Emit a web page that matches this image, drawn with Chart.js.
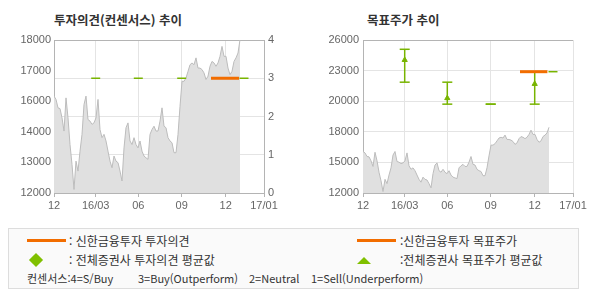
<!DOCTYPE html>
<html lang="ko">
<head>
<meta charset="utf-8">
<title>투자의견 / 목표주가 추이</title>
<script src="https://cdn.jsdelivr.net/npm/chart.js@4.4.0/dist/chart.umd.min.js"></script>
<style>
  html, body { margin: 0; padding: 0; background: #fff; }
  body { width: 590px; height: 300px; position: relative; overflow: hidden;
         font-family: "Noto Sans CJK KR", sans-serif; color: #333; }
  .box { position: absolute; top: 0; width: 295px; height: 215px; }
  .title { position: absolute; top: 11px; font-size: 12.5px; font-weight: bold; line-height: 18px; color: #333; }
  .legend { position: absolute; left: 8px; top: 228px; width: 571px; height: 61px; box-sizing: border-box;
            border: 1px solid #ddd; background: #fafafa; font-size: 12px; }
  .item { position: absolute; line-height: 16px; white-space: pre; }
  .small { font-size: 11px; }
  .orange { position: absolute; height: 3px; width: 39px; background: #f26d00; top: 10px; }
  .diamond { position: absolute; left: 22px; top: 26px; width: 10px; height: 10px; background: #80c000; transform: rotate(45deg); }
  .tri { position: absolute; left: 348px; top: 28px; width: 0; height: 0;
         border-left: 7px solid transparent; border-right: 7px solid transparent; border-bottom: 7px solid #80c000; }
</style>
</head>
<body>
<div class="title" style="left:54px">투자의견(컨센서스) 추이</div>
<div class="title" style="left:367px">목표주가 추이</div>
<div class="box" style="left:0"><canvas id="opinion-chart" width="295" height="215"></canvas></div>
<div class="box" style="left:295px"><canvas id="target-chart" width="295" height="215"></canvas></div>

<div class="legend">
  <div class="orange" style="left:18px"></div>
  <div class="item" style="left:60px; top:4px">: 신한금융투자 투자의견</div>
  <div class="diamond"></div>
  <div class="item" style="left:60px; top:23px">: 전체증권사 투자의견 평균값</div>
  <div class="orange" style="left:348px"></div>
  <div class="item" style="left:391px; top:4px">:신한금융투자 목표주가</div>
  <div class="tri"></div>
  <div class="item" style="left:391px; top:23px">:전체증권사 목표주가 평균값</div>
  <div class="item small" style="left:18px; top:41px">컨센서스:4=S/Buy</div>
  <div class="item small" style="left:129px; top:41px">3=Buy(Outperform)</div>
  <div class="item small" style="left:240px; top:41px">2=Neutral</div>
  <div class="item small" style="left:302px; top:41px">1=Sell(Underperform)</div>
</div>

<script>
// 데이터
const xTickPos = [0, 41.7, 84.3, 127.7, 171.7, 210];
const xTickLabels = ['12', '16/03', '06', '09', '12', '17/01'];

// 주가 (2일 간격)
const priceStep = 2;
const priceValues = [
  15800, 15670, 15340, 15310, 14950, 14430, 15730, 14950, 13900, 13120,
  12140, 13250, 12860, 13640, 14300, 15470, 15800, 14880, 14820, 14690,
  14750, 14950, 15670, 14490, 14170, 14300, 14040, 13640, 13250, 12990,
  13450, 13250, 13190, 12860, 12470, 13770, 14560, 14750, 14040, 13900,
  14170, 13900, 13770, 14040, 13640, 13450, 13380, 13320, 14300, 14490,
  14620, 14430, 14430, 14820, 15340, 14620, 14560, 14170, 14040, 13970,
  13580, 13580, 14300, 15400, 16380, 16380, 16510, 16770, 17030, 17100,
  17030, 17300, 16900, 16900, 16840, 16710, 16450, 16580, 16970, 17160,
  17100, 16970, 17100, 17360, 17750, 17360, 17360, 16900, 16640, 16770,
  17160, 17300, 17490, 18010
];

const leftPriceTicks = [12000, 13200, 14400, 15600, 16800, 18000];
const leftPriceLabels = ['12000', '13000', '14000', '16000', '17000', '18000'];

const consensusDays = [41.7, 84.3, 127.7, 171.7, 190];
const consensusOpinion = [3, 3, 3, 3, 3];
const shinhanOpinionDays = [157, 185];
const shinhanOpinion = [3, 3];

const rightPriceTicks = [12000, 14800, 17600, 20400, 23200, 26000];
const rightPriceLabels = ['12000', '15000', '18000', '20000', '23000', '26000'];

const targetDays = [41.7, 84.3, 127.7, 171.7];
const targetHigh = [25150, 22140, 20130, 23100];
const targetLow = [22140, 20130, 20130, 20130];
const targetAvg = [24170, 20680, null, 21980];
const consensusTargetDays = [190];
const consensusTarget = [23100];
const shinhanTargetDays = [157, 184.4];
const shinhanTarget = [23100, 23100];

// 스타일
const GRID = '#e4e4e4';
const AXIS = '#b4b4b4';
const TEXT = '#666';
const ORANGE = '#f26d00';
const GREEN = '#78b400';

Chart.defaults.font.family = '"Liberation Sans", Arial, sans-serif';
Chart.defaults.font.size = 11;
Chart.defaults.animation = false;

const pairs = (xs, ys) => xs.map((x, i) => ({ x, y: ys[i] }));
const priceSeries = priceValues.map((v, i) => ({ x: i * priceStep, y: v }));

const fixedTicks = (list) => (axis) => { axis.ticks = list.map(v => ({ value: v })); };

const xAxis = () => ({
  type: 'linear', min: 0, max: 210,
  afterBuildTicks: fixedTicks(xTickPos),
  afterFit: (axis) => { axis.height = 22; },
  grid: { color: GRID, tickLength: 4, tickColor: AXIS },
  border: { color: AXIS },
  ticks: { autoSkip: false, maxRotation: 0, padding: 2, color: TEXT,
           callback: (v, i) => xTickLabels[i] }
});

const priceDataset = () => ({
  type: 'line', data: priceSeries, yAxisID: 'y', order: 10,
  borderColor: '#bcbcbc', borderWidth: 1, backgroundColor: '#e0e0e0',
  fill: 'start', pointRadius: 0, tension: 0
});

const baseOptions = (padding) => ({
  responsive: false,
  layout: { padding },
  plugins: { legend: { display: false }, tooltip: { enabled: false } }
});

// 투자의견 차트
new Chart(document.getElementById('opinion-chart'), {
  type: 'line',
  data: {
    datasets: [
      { data: pairs(shinhanOpinionDays, shinhanOpinion), yAxisID: 'y1', order: 1,
        borderColor: ORANGE, borderWidth: 3, pointRadius: 0 },
      { data: pairs(consensusDays, consensusOpinion), yAxisID: 'y1', order: 2, showLine: false,
        pointStyle: 'line', pointRadius: 4.5, pointBorderWidth: 1.5, pointBorderColor: GREEN },
      priceDataset()
    ]
  },
  options: {
    ...baseOptions({ top: 40, left: 0, right: 0, bottom: 0 }),
    scales: {
      x: xAxis(),
      y: {
        type: 'linear', position: 'left', min: 12000, max: 18000,
        afterBuildTicks: fixedTicks(leftPriceTicks),
        afterFit: (axis) => { axis.width = 54; },
        grid: { display: false, drawTicks: false },
        border: { color: AXIS },
        ticks: { padding: 3, color: TEXT, callback: (v, i) => leftPriceLabels[i] }
      },
      y1: {
        type: 'linear', position: 'right', min: 0, max: 4,
        afterFit: (axis) => { axis.width = 31; },
        grid: { drawTicks: false, color: (c) => c.tick && c.tick.value === 4 ? AXIS : GRID },
        border: { color: AXIS },
        ticks: { stepSize: 1, padding: 4, color: TEXT }
      }
    }
  }
});

// 목표주가 차트
const rangePoints = [];
targetDays.forEach((d, i) => {
  rangePoints.push({ x: d, y: targetHigh[i] }, { x: d, y: targetLow[i] }, { x: d, y: null });
});

new Chart(document.getElementById('target-chart'), {
  type: 'line',
  data: {
    datasets: [
      { data: pairs(shinhanTargetDays, shinhanTarget), order: 1,
        borderColor: ORANGE, borderWidth: 3, pointRadius: 0 },
      { data: rangePoints, order: 2, spanGaps: false,
        borderColor: GREEN, borderWidth: 1.5,
        pointStyle: 'line', pointRadius: 5, pointBorderWidth: 1.5, pointBorderColor: GREEN },
      { data: pairs(targetDays, targetAvg), order: 3, showLine: false,
        pointStyle: 'triangle', pointRadius: 3, pointBackgroundColor: GREEN, pointBorderColor: GREEN },
      { data: pairs(consensusTargetDays, consensusTarget), order: 4, showLine: false,
        pointStyle: 'line', pointRadius: 4.5, pointBorderWidth: 1.5, pointBorderColor: GREEN },
      priceDataset()
    ]
  },
  options: {
    ...baseOptions({ top: 40, left: 0, right: 17, bottom: 0 }),
    scales: {
      x: xAxis(),
      y: {
        type: 'linear', position: 'left', min: 12000, max: 26000,
        afterBuildTicks: fixedTicks(rightPriceTicks),
        afterFit: (axis) => { axis.width = 68; },
        grid: { drawTicks: false, color: (c) => c.tick && c.tick.value === 26000 ? AXIS : GRID },
        border: { color: AXIS },
        ticks: { padding: 4, color: TEXT, callback: (v, i) => rightPriceLabels[i] }
      }
    }
  }
});
</script>
</body>
</html>
